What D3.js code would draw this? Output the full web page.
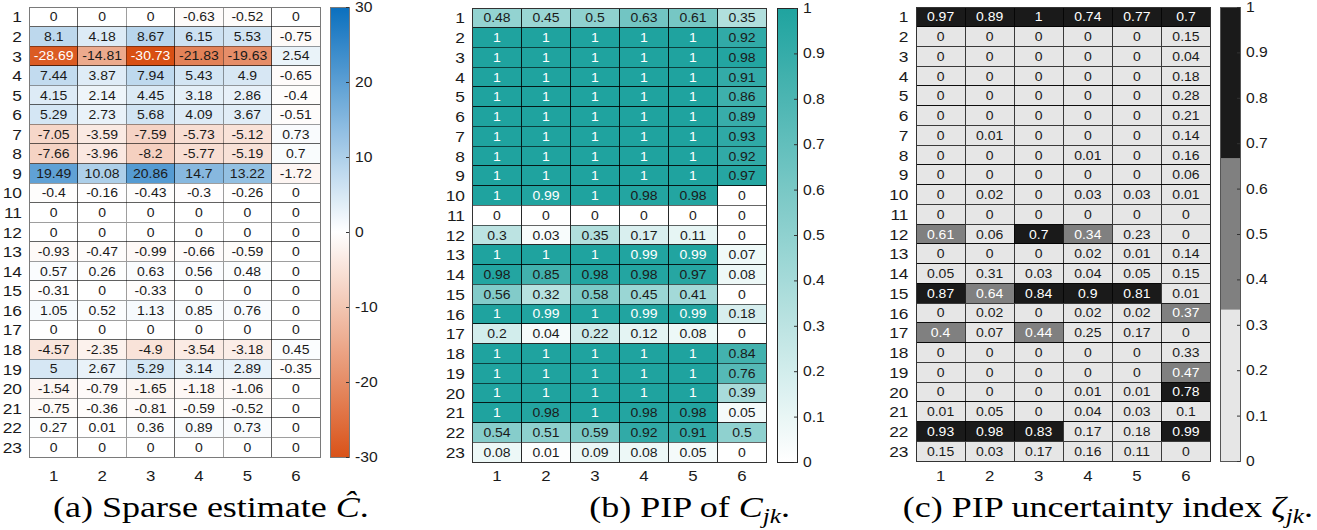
<!DOCTYPE html>
<html>
<head>
<meta charset="utf-8">
<script src="https://cdn.jsdelivr.net/npm/d3@7"></script>
<style>
  body { margin: 0; background: #fff; }
  svg { display: block; }
</style>
</head>
<body>
<svg id="chart" width="1317" height="530"></svg>
<script>
const rows = d3.range(1, 24);
const cols = d3.range(1, 7);

const sparseEstimate = [
  [0, 0, 0, -0.63, -0.52, 0],
  [8.1, 4.18, 8.67, 6.15, 5.53, -0.75],
  [-28.69, -14.81, -30.73, -21.83, -19.63, 2.54],
  [7.44, 3.87, 7.94, 5.43, 4.9, -0.65],
  [4.15, 2.14, 4.45, 3.18, 2.86, -0.4],
  [5.29, 2.73, 5.68, 4.09, 3.67, -0.51],
  [-7.05, -3.59, -7.59, -5.73, -5.12, 0.73],
  [-7.66, -3.96, -8.2, -5.77, -5.19, 0.7],
  [19.49, 10.08, 20.86, 14.7, 13.22, -1.72],
  [-0.4, -0.16, -0.43, -0.3, -0.26, 0],
  [0, 0, 0, 0, 0, 0],
  [0, 0, 0, 0, 0, 0],
  [-0.93, -0.47, -0.99, -0.66, -0.59, 0],
  [0.57, 0.26, 0.63, 0.56, 0.48, 0],
  [-0.31, 0, -0.33, 0, 0, 0],
  [1.05, 0.52, 1.13, 0.85, 0.76, 0],
  [0, 0, 0, 0, 0, 0],
  [-4.57, -2.35, -4.9, -3.54, -3.18, 0.45],
  [5, 2.67, 5.29, 3.14, 2.89, -0.35],
  [-1.54, -0.79, -1.65, -1.18, -1.06, 0],
  [-0.75, -0.36, -0.81, -0.59, -0.52, 0],
  [0.27, 0.01, 0.36, 0.89, 0.73, 0],
  [0, 0, 0, 0, 0, 0]
];

const pip = [
  [0.48, 0.45, 0.5, 0.63, 0.61, 0.35],
  [1, 1, 1, 1, 1, 0.92],
  [1, 1, 1, 1, 1, 0.98],
  [1, 1, 1, 1, 1, 0.91],
  [1, 1, 1, 1, 1, 0.86],
  [1, 1, 1, 1, 1, 0.89],
  [1, 1, 1, 1, 1, 0.93],
  [1, 1, 1, 1, 1, 0.92],
  [1, 1, 1, 1, 1, 0.97],
  [1, 0.99, 1, 0.98, 0.98, 0],
  [0, 0, 0, 0, 0, 0],
  [0.3, 0.03, 0.35, 0.17, 0.11, 0],
  [1, 1, 1, 0.99, 0.99, 0.07],
  [0.98, 0.85, 0.98, 0.98, 0.97, 0.08],
  [0.56, 0.32, 0.58, 0.45, 0.41, 0],
  [1, 0.99, 1, 0.99, 0.99, 0.18],
  [0.2, 0.04, 0.22, 0.12, 0.08, 0],
  [1, 1, 1, 1, 1, 0.84],
  [1, 1, 1, 1, 1, 0.76],
  [1, 1, 1, 1, 1, 0.39],
  [1, 0.98, 1, 0.98, 0.98, 0.05],
  [0.54, 0.51, 0.59, 0.92, 0.91, 0.5],
  [0.08, 0.01, 0.09, 0.08, 0.05, 0]
];

const pipUncertainty = [
  [0.97, 0.89, 1, 0.74, 0.77, 0.7],
  [0, 0, 0, 0, 0, 0.15],
  [0, 0, 0, 0, 0, 0.04],
  [0, 0, 0, 0, 0, 0.18],
  [0, 0, 0, 0, 0, 0.28],
  [0, 0, 0, 0, 0, 0.21],
  [0, 0.01, 0, 0, 0, 0.14],
  [0, 0, 0, 0.01, 0, 0.16],
  [0, 0, 0, 0, 0, 0.06],
  [0, 0.02, 0, 0.03, 0.03, 0.01],
  [0, 0, 0, 0, 0, 0],
  [0.61, 0.06, 0.7, 0.34, 0.23, 0],
  [0, 0, 0, 0.02, 0.01, 0.14],
  [0.05, 0.31, 0.03, 0.04, 0.05, 0.15],
  [0.87, 0.64, 0.84, 0.9, 0.81, 0.01],
  [0, 0.02, 0, 0.02, 0.02, 0.37],
  [0.4, 0.07, 0.44, 0.25, 0.17, 0],
  [0, 0, 0, 0, 0, 0.33],
  [0, 0, 0, 0, 0, 0.47],
  [0, 0, 0, 0.01, 0.01, 0.78],
  [0.01, 0.05, 0, 0.04, 0.03, 0.1],
  [0.93, 0.98, 0.83, 0.17, 0.18, 0.99],
  [0.15, 0.03, 0.17, 0.16, 0.11, 0]
];

const estimateTicks = [-30, -20, -10, 0, 10, 20, 30];
const unitTicks = [0, 0.1, 0.2, 0.3, 0.4, 0.5, 0.6, 0.7, 0.8, 0.9, 1];

const captionA = [{ t: "(a) Sparse estimate " }, { t: "Ĉ", it: true }, { t: "." }];
const captionB = [{ t: "(b) PIP of " }, { t: "C", it: true }, { t: "jk", it: true, sub: true }, { t: "." }];
const captionC = [{ t: "(c) PIP uncertainty index " }, { t: "ζ", it: true }, { t: "jk", it: true, sub: true }, { t: "." }];

// text in the source figure is a bit wider than the fonts here
const SX = 1.12;
const SX_CAP = 1.2;
const stretch = (x, y, s = SX) => `translate(${x},${y}) scale(${s},1)`;
const SANS = "Liberation Sans";
const SERIF = "Liberation Serif";

const svg = d3.select("#chart");
const defs = svg.append("defs");

const panels = [
  {
    id: "a", values: sparseEstimate, ticks: estimateTicks, domain: [-30, 30],
    x0: 29.5, x1: 320, y0: 7, y1: 457, cbX: 330, cbW: 19,
    color: d3.scaleLinear().domain([-30, 0, 30]).range(["#d95319", "#ffffff", "#0a6fbe"]),
    textColor: v => v <= -25 ? "#fff" : "#1a1a1a",
    grid: "rgba(0,0,0,0.38)", border: "#7a7a7a", cbBorder: "#7a7a7a",
    caption: captionA, capX: 53, capAnchor: "start"
  },
  {
    id: "b", values: pip, ticks: unitTicks, domain: [0, 1],
    x0: 472.5, x1: 766.5, y0: 8, y1: 462, cbX: 777, cbW: 20,
    color: d3.scaleLinear().domain([0, 1]).range(["#ffffff", "#1fa39f"]),
    textColor: v => v >= 0.99 ? "#fff" : "#1a1a1a",
    grid: "rgba(0,0,0,0.6)", border: "#333", cbBorder: "#262626",
    caption: captionB, capX: 790, capAnchor: "end"
  },
  {
    id: "c", values: pipUncertainty, ticks: unitTicks, domain: [0, 1],
    x0: 916, x1: 1210.5, y0: 7, y1: 461, cbX: 1220, cbW: 20,
    color: d3.scaleThreshold().domain([1 / 3, 2 / 3]).range(["#e6e6e6", "#808080", "#1a1a1a"]),
    textColor: v => v > 1 / 3 ? "#fff" : "#1a1a1a",
    grid: "rgba(0,0,0,0.75)", border: "#333", cbBorder: "#555",
    caption: captionC, capX: 1313, capAnchor: "end"
  }
];

const drawPanel = (p) => {
  const x = d3.scaleBand().domain(cols).range([p.x0, p.x1]);
  const y = d3.scaleBand().domain(rows).range([p.y0, p.y1]);
  const g = svg.append("g").attr("class", `panel-${p.id}`);

  const cells = p.values.flatMap((row, i) => row.map((v, j) => ({ r: rows[i], c: cols[j], v })));

  g.selectAll("rect.cell")
    .data(cells)
    .join("rect")
    .attr("class", "cell")
    .attr("x", d => x(d.c))
    .attr("y", d => y(d.r))
    .attr("width", x.bandwidth())
    .attr("height", y.bandwidth())
    .attr("fill", d => p.color(d.v))
    .attr("stroke", p.grid)
    .attr("stroke-width", 1)
    .attr("shape-rendering", "crispEdges");

  g.append("rect")
    .attr("x", p.x0).attr("y", p.y0)
    .attr("width", p.x1 - p.x0).attr("height", p.y1 - p.y0)
    .attr("fill", "none").attr("stroke", p.border)
    .attr("shape-rendering", "crispEdges");

  g.selectAll("text.cell-text")
    .data(cells)
    .join("text")
    .attr("class", "cell-text")
    .attr("font-family", SANS)
    .attr("font-size", 12.5)
    .attr("transform", d => stretch(x(d.c) + x.bandwidth() / 2, y(d.r) + y.bandwidth() / 2))
    .attr("text-anchor", "middle")
    .attr("dy", "0.36em")
    .attr("fill", d => p.textColor(d.v))
    .text(d => d.v);

  // row labels
  const yAxis = g.append("g")
    .attr("transform", `translate(${p.x0},0)`)
    .call(d3.axisLeft(y).tickSize(0).tickPadding(0));
  yAxis.attr("font-family", SANS).attr("font-size", 15.5);
  yAxis.select(".domain").remove();
  yAxis.selectAll("text")
    .attr("fill", "#1a1a1a")
    .attr("x", -7.5 / SX)
    .attr("dy", "0.36em")
    .attr("transform", `scale(${SX},1)`);

  // column labels
  const xAxis = g.append("g")
    .attr("transform", `translate(0,481)`)
    .call(d3.axisBottom(x).tickSize(0).tickPadding(0));
  xAxis.attr("font-family", SANS).attr("font-size", 15);
  xAxis.select(".domain").remove();
  xAxis.selectAll("text")
    .attr("fill", "#1a1a1a")
    .attr("y", 0)
    .attr("dy", 0)
    .attr("transform", `scale(${SX},1)`);

  // colorbar
  const cbY0 = p.y0, cbY1 = p.y1;
  const cy = d3.scaleLinear().domain(p.domain).range([cbY1, cbY0]);
  if (p.color.invertExtent) {
    const extent = c => {
      const [lo, hi] = p.color.invertExtent(c);
      return [lo === undefined ? p.domain[0] : lo, hi === undefined ? p.domain[1] : hi];
    };
    g.selectAll("rect.cb")
      .data(p.color.range())
      .join("rect")
      .attr("class", "cb")
      .attr("x", p.cbX)
      .attr("width", p.cbW)
      .attr("y", c => cy(extent(c)[1]))
      .attr("height", c => cy(extent(c)[0]) - cy(extent(c)[1]))
      .attr("fill", c => c);
  } else {
    const grad = defs.append("linearGradient")
      .attr("id", `grad-${p.id}`)
      .attr("x1", 0).attr("y1", 1).attr("x2", 0).attr("y2", 0);
    const samples = d3.ticks(p.domain[0], p.domain[1], 30);
    grad.selectAll("stop")
      .data(samples)
      .join("stop")
      .attr("offset", v => (v - p.domain[0]) / (p.domain[1] - p.domain[0]))
      .attr("stop-color", v => p.color(v));
    g.append("rect")
      .attr("x", p.cbX).attr("y", cbY0)
      .attr("width", p.cbW).attr("height", cbY1 - cbY0)
      .attr("fill", `url(#grad-${p.id})`);
  }
  g.append("rect")
    .attr("x", p.cbX).attr("y", cbY0)
    .attr("width", p.cbW).attr("height", cbY1 - cbY0)
    .attr("fill", "none").attr("stroke", p.cbBorder)
    .attr("shape-rendering", "crispEdges");

  const cAxis = g.append("g")
    .attr("transform", `translate(${p.cbX + p.cbW},0)`)
    .call(d3.axisRight(cy).tickValues(p.ticks).tickFormat(d => d).tickSizeInner(-3).tickSizeOuter(0).tickPadding(6));
  cAxis.attr("font-family", SANS).attr("font-size", 14);
  cAxis.select(".domain").remove();
  cAxis.selectAll("line").attr("stroke", "#333");
  cAxis.selectAll("text")
    .attr("fill", "#1a1a1a")
    .attr("x", 6 / SX)
    .attr("transform", `scale(${SX},1)`);

  // caption
  const cap = svg.append("text")
    .attr("font-family", SERIF)
    .attr("font-size", 30)
    .attr("text-anchor", p.capAnchor)
    .attr("transform", stretch(p.capX, 517, SX_CAP));
  let shifted = false;
  p.caption.forEach(part => {
    const ts = cap.append("tspan").text(part.t);
    if (part.it) ts.attr("font-style", "italic");
    if (part.sub) {
      ts.attr("font-size", 21).attr("dy", 6);
      shifted = true;
    } else if (shifted) {
      ts.attr("dy", -6);
      shifted = false;
    }
  });
};

panels.forEach(drawPanel);
</script>
</body>
</html>
